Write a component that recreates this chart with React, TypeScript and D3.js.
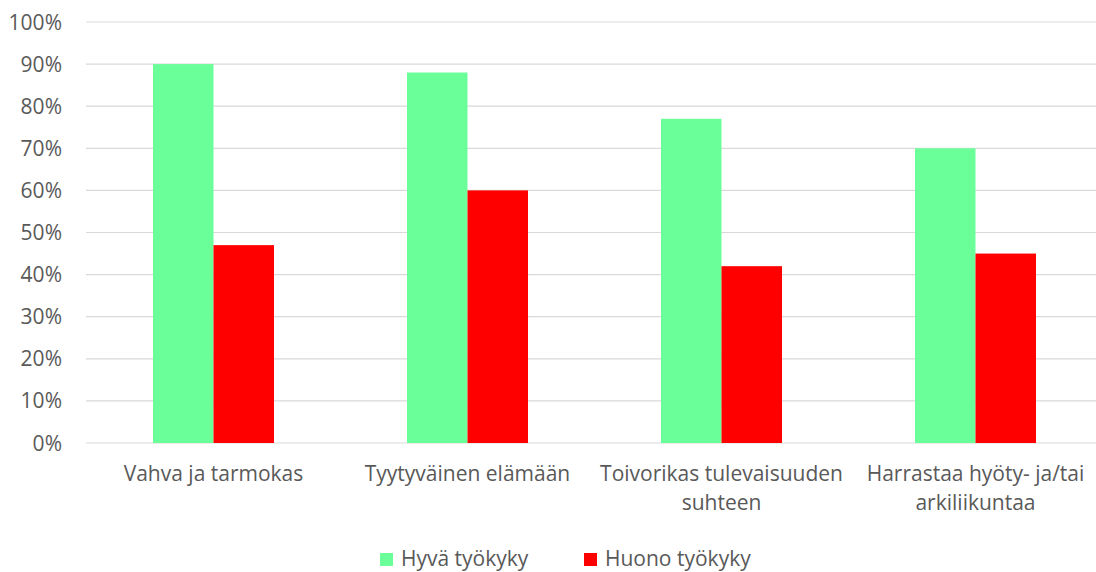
import React from "react";
import * as d3 from "d3";

const categories: string[][] = [
  ["Vahva ja tarmokas"],
  ["Tyytyväinen elämään"],
  ["Toivorikas tulevaisuuden", "suhteen"],
  ["Harrastaa hyöty- ja/tai", "arkiliikuntaa"],
];
const seriesNames = ["Hyvä työkyky", "Huono työkyky"];
const hyva = [90, 88, 77, 70];
const huono = [47, 60, 42, 45];
const yTicks = [0, 10, 20, 30, 40, 50, 60, 70, 80, 90, 100];
const colors = ["#6bff99", "#ff0000"];

const W = 1096;
const H = 572;
const FONT = "'Open Sans', sans-serif";
const TEXT = "#595959";

export default function App() {
  const keys = categories.map((c) => c.join(" "));
  const x = d3.scaleBand<string>().domain(keys).range([86.5, 1102.5]).padding(0);
  const inner = d3
    .scaleBand<string>()
    .domain(seriesNames)
    .range([0, x.step()])
    .paddingInner(0)
    .paddingOuter(1.099);
  const y = d3.scaleLinear().domain([0, 100]).range([443, 22]);
  const values = [hyva, huono];

  return (
    <svg
      width={W}
      height={H}
      style={{ position: "absolute", left: 0, top: 0, background: "#fff" }}
      fontFamily={FONT}
    >
      {yTicks.map((t) => (
        <g key={t}>
          <line x1={86} x2={1096} y1={y(t)} y2={y(t)} stroke="#d9d9d9" strokeWidth={1.2} />
          <text x={62} y={y(t)} dy="0.36em" textAnchor="end" fontSize={21} fill={TEXT}>
            {t}%
          </text>
        </g>
      ))}
      {keys.map((k, i) => (
        <g key={k} transform={`translate(${x(k)},0)`}>
          {seriesNames.map((s, j) => (
            <rect
              key={s}
              x={inner(s)}
              y={y(values[j][i])}
              width={inner.bandwidth()}
              height={y(0) - y(values[j][i])}
              fill={colors[j]}
            />
          ))}
          {categories[i].map((line, li) => (
            <text
              key={li}
              x={x.step() / 2}
              y={481 + li * 29}
              textAnchor="middle"
              fontSize={21}
              fill={TEXT}
            >
              {line}
            </text>
          ))}
        </g>
      ))}
      {seriesNames.map((s, j) => {
        const lx = j === 0 ? 380 : 584;
        return (
          <g key={s}>
            <rect x={lx} y={553} width={13} height={13} fill={colors[j]} />
            <text x={lx + 21} y={566} fontSize={21} fill={TEXT}>
              {s}
            </text>
          </g>
        );
      })}
    </svg>
  );
}
